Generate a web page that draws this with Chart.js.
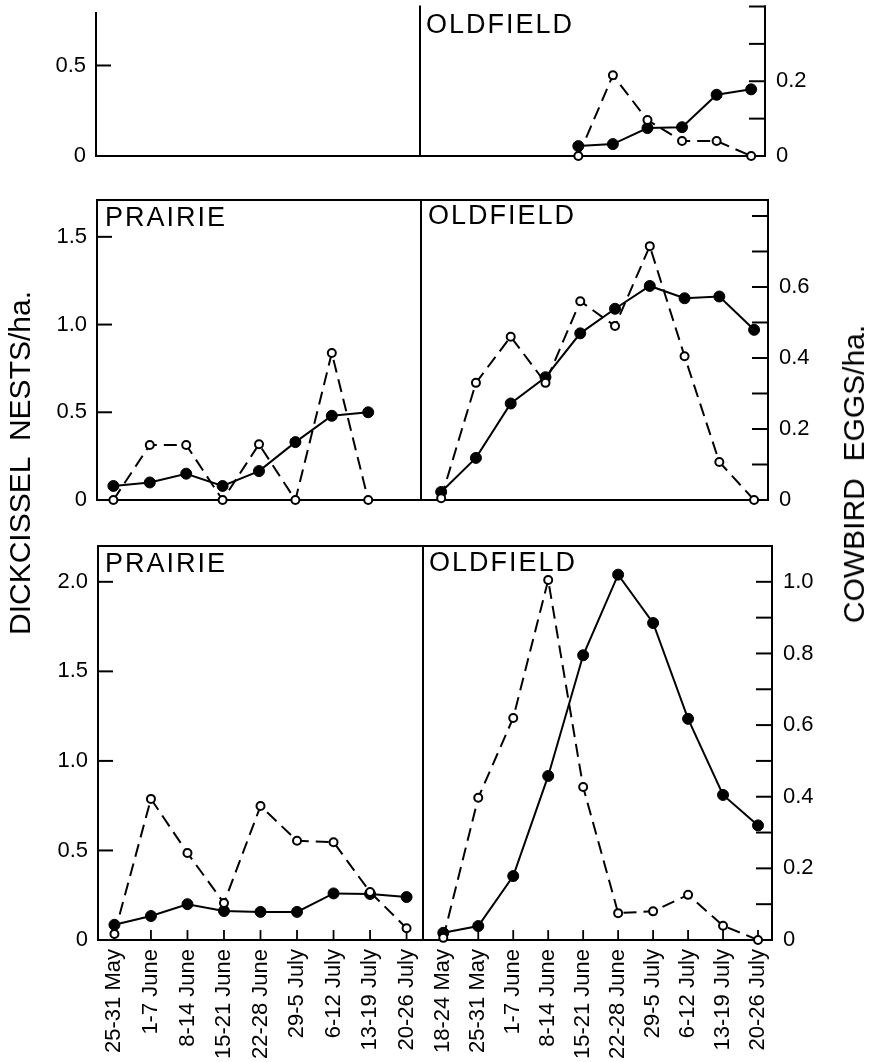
<!DOCTYPE html>
<html lang="en">
<head>
    <meta charset="UTF-8">
    <title>Dickcissel nests and cowbird eggs</title>
    <style>
        body {
            margin: 0;
            background: #ffffff;
            font-family: 'Liberation Sans', Arial, Helvetica, sans-serif;
        }
        #page {
            position: relative;
            width: 871px;
            height: 1062px;
            overflow: hidden;
        }
        canvas {
            position: absolute;
            left: 0;
            top: 0;
        }
        /* panel names */
        .tag {
            position: absolute;
            font-size: 27px;
            line-height: 27px;
            letter-spacing: 2px;
            color: #000;
            white-space: pre;
        }
        /* rotated axis titles */
        .axis-title {
            position: absolute;
            font-size: 30px;
            line-height: 30px;
            color: #000;
            white-space: pre;
            transform: translate(-50%, -50%) rotate(-90deg);
        }
    </style>
    <script src="https://cdn.jsdelivr.net/npm/chart.js"></script>
</head>
<body>
<div id="page">
    <canvas id="c1a" width="871" height="1062"></canvas>
    <canvas id="c1b" width="871" height="1062"></canvas>
    <canvas id="c2a" width="871" height="1062"></canvas>
    <canvas id="c2b" width="871" height="1062"></canvas>
    <canvas id="c3a" width="871" height="1062"></canvas>
    <canvas id="c3b" width="871" height="1062"></canvas>

    <div class="tag" style="left:426px; top:11px;">OLDFIELD</div>
    <div class="tag" style="left:105px; top:204px;">PRAIRIE</div>
    <div class="tag" style="left:428px; top:202px;">OLDFIELD</div>
    <div class="tag" style="left:105px; top:550px;">PRAIRIE</div>
    <div class="tag" style="left:429px; top:549px;">OLDFIELD</div>

    <div class="axis-title" style="left:20px; top:463px;">DICKCISSEL  NESTS/ha.</div>
    <div class="axis-title" style="left:854px; top:474px;">COWBIRD  EGGS/ha.</div>
</div>

<script>
    // week categories
    const prairieWeeks = ['25-31 May', '1-7 June', '8-14 June', '15-21 June', '22-28 June',
        '29-5 July', '6-12 July', '13-19 July', '20-26 July'];
    const oldfieldWeeks = ['18-24 May', '25-31 May', '1-7 June', '8-14 June', '15-21 June',
        '22-28 June', '29-5 July', '6-12 July', '13-19 July', '20-26 July'];

    // top panel (only oldfield has data)
    const prairieNests1 = [null, null, null, null, null, null, null, null, null];
    const prairieEggs1 = [null, null, null, null, null, null, null, null, null];
    const oldfieldNests1 = [null, null, null, null, 0.055, 0.066, 0.155, 0.16, 0.34, 0.37];
    const oldfieldEggs1 = [null, null, null, null, 0, 0.216, 0.096, 0.04, 0.04, 0];

    // middle panel
    const prairieNests2 = [0.08, 0.10, 0.15, 0.08, 0.165, 0.33, 0.48, 0.50, null];
    const prairieEggs2 = [0, 0.155, 0.155, 0, 0.157, 0, 0.414, 0, null];
    const oldfieldNests2 = [0.046, 0.24, 0.55, 0.70, 0.95, 1.09, 1.22, 1.15, 1.16, 0.97];
    const oldfieldEggs2 = [0.005, 0.33, 0.46, 0.33, 0.56, 0.49, 0.715, 0.405, 0.107, 0];

    // bottom panel
    const prairieNests3 = [0.085, 0.134, 0.20, 0.162, 0.157, 0.157, 0.26, 0.257, 0.24];
    const prairieEggs3 = [0.017, 0.394, 0.243, 0.103, 0.374, 0.277, 0.273, 0.134, 0.033];
    const oldfieldNests3 = [0.04, 0.078, 0.357, 0.916, 1.59, 2.04, 1.77, 1.235, 0.81, 0.64];
    const oldfieldEggs3 = [0.006, 0.397, 0.62, 1.005, 0.427, 0.075, 0.08, 0.126, 0.04, 0];

    // tick values / labelled values
    const nestTicks1 = [0, 0.5];
    const nestTicks2 = [0, 0.5, 1.0, 1.5];
    const nestTicks3 = [0, 0.5, 1.0, 1.5, 2.0];
    const eggTicks1 = [0, 0.1, 0.2, 0.3, 0.4];
    const eggTicks2 = [0, 0.1, 0.2, 0.3, 0.4, 0.5, 0.6, 0.7, 0.8];
    const eggTicks3 = [0, 0.1, 0.2, 0.3, 0.4, 0.5, 0.6, 0.7, 0.8, 0.9, 1.0];
    const eggLabels1 = [0, 0.2];
    const eggLabels2 = [0, 0.2, 0.4, 0.6];
    const eggLabels3 = [0, 0.2, 0.4, 0.6, 0.8, 1.0];

    const W = 871, H = 1062;
    const FONT = { family: "'Liberation Sans', Arial, Helvetica, sans-serif", size: 22 };

    // draws axis lines and inward tick marks
    const framePlugin = {
        id: 'frame',
        beforeDatasetsDraw(chart, args, o) {
            const ctx = chart.ctx, a = chart.chartArea;
            ctx.save();
            ctx.strokeStyle = '#000';
            ctx.lineWidth = 2;
            ctx.lineCap = 'square';
            const seg = (x1, y1, x2, y2) => {
                ctx.beginPath(); ctx.moveTo(x1, y1); ctx.lineTo(x2, y2); ctx.stroke();
            };
            if (o.sides.includes('left')) seg(a.left, a.top, a.left, a.bottom);
            if (o.sides.includes('right')) seg(a.right, a.top, a.right, a.bottom);
            if (o.sides.includes('top')) seg(a.left, a.top, a.right, a.top);
            if (o.sides.includes('bottom')) seg(a.left, a.bottom, a.right, a.bottom);

            const ys = chart.scales[o.yScale];
            ys.ticks.forEach(t => {
                if (t.value === 0) return;
                const py = ys.getPixelForValue(t.value);
                if (o.ySide === 'left') seg(a.left, py, a.left + 14, py);
                else seg(a.right - 15, py, a.right, py);
            });
            if (o.xTicks) {
                const xs = chart.scales.x;
                ctx.lineWidth = 1.8;
                xs.ticks.forEach(t => {
                    const px = xs.getPixelForValue(t.value);
                    seg(px, a.bottom, px, a.bottom - 9);
                });
            }
            ctx.restore();
        }
    };

    const fmt = v => v === 0 ? '0' : v.toFixed(1);
    const pts = arr => arr.map((v, i) => ({ x: i, y: v })).filter(p => p.y !== null);

    function makeChart(id, cfg) {
        const isLeft = cfg.side === 'left';
        const nestAxis = {
            type: 'linear', position: 'left', min: 0, max: cfg.nestMax,
            display: isLeft,
            afterBuildTicks: s => { s.ticks = cfg.nestTicks.map(v => ({ value: v })); },
            afterFit: s => { s.width = isLeft ? cfg.axisX : 0; s.paddingTop = 0; s.paddingBottom = 0; },
            border: { display: false },
            grid: { display: false, drawTicks: false },
            ticks: { autoSkip: false, padding: 10, color: '#000', font: FONT, callback: v => fmt(v) }
        };
        const eggAxis = {
            type: 'linear', position: 'right', min: 0, max: cfg.eggMax,
            display: !isLeft,
            afterBuildTicks: s => { s.ticks = cfg.eggTicks.map(v => ({ value: v })); },
            afterFit: s => { s.width = isLeft ? 0 : W - cfg.axisX; s.paddingTop = 0; s.paddingBottom = 0; },
            border: { display: false },
            grid: { display: false, drawTicks: false },
            ticks: {
                autoSkip: false, padding: 11, color: '#000', font: FONT,
                callback: v => cfg.eggLabels.includes(v) ? fmt(v) : ''
            }
        };
        return new Chart(document.getElementById(id), {
            type: 'line',
            data: {
                datasets: [
                    {
                        label: 'Cowbird eggs', data: pts(cfg.eggs), yAxisID: 'egg',
                        borderColor: '#000', borderWidth: 2, borderDash: [13, 7],
                        pointRadius: 4, pointBackgroundColor: '#fff',
                        pointBorderColor: '#000', pointBorderWidth: 2,
                        tension: 0, clip: false
                    },
                    {
                        label: 'Dickcissel nests', data: pts(cfg.nests), yAxisID: 'nest',
                        borderColor: '#000', borderWidth: 2,
                        pointRadius: 5.5, pointBackgroundColor: '#000',
                        pointBorderColor: '#000', pointBorderWidth: 1,
                        tension: 0, clip: false
                    }
                ]
            },
            options: {
                responsive: false,
                animation: false,
                events: [],
                layout: {
                    padding: {
                        top: cfg.top,
                        bottom: 0,
                        left: isLeft ? 0 : cfg.mid,
                        right: isLeft ? W - cfg.mid : 0
                    }
                },
                plugins: {
                    legend: { display: false },
                    tooltip: { enabled: false },
                    frame: {
                        sides: cfg.sides,
                        yScale: isLeft ? 'nest' : 'egg',
                        ySide: cfg.side,
                        xTicks: cfg.showX
                    }
                },
                scales: {
                    x: {
                        type: 'linear', min: cfg.xMin, max: cfg.xMax,
                        afterBuildTicks: s => { s.ticks = cfg.weeks.map((w, i) => ({ value: i })); },
                        afterFit: s => { s.height = H - cfg.bottom; s.paddingLeft = 0; s.paddingRight = 0; },
                        border: { display: false },
                        grid: { display: false, drawTicks: false },
                        ticks: {
                            display: cfg.showX, autoSkip: false,
                            minRotation: 90, maxRotation: 90, padding: 9,
                            color: '#000', font: FONT,
                            callback: v => cfg.weeks[v]
                        }
                    },
                    nest: nestAxis,
                    egg: eggAxis
                }
            },
            plugins: [framePlugin]
        });
    }

    const LX = [-0.45, 8.45];  // prairie half
    const RX = [-0.58, 9.4];   // oldfield half

    // top row
    makeChart('c1a', { side: 'left', weeks: prairieWeeks, nests: prairieNests1, eggs: prairieEggs1,
        top: 13, bottom: 156, axisX: 96, mid: 420, xMin: LX[0], xMax: LX[1],
        nestMax: 0.79, eggMax: 0.38, nestTicks: nestTicks1, eggTicks: eggTicks1, eggLabels: eggLabels1,
        sides: ['left', 'bottom'], showX: false });
    makeChart('c1b', { side: 'right', weeks: oldfieldWeeks, nests: oldfieldNests1, eggs: oldfieldEggs1,
        top: 6, bottom: 156, axisX: 765, mid: 420, xMin: RX[0], xMax: RX[1],
        nestMax: 0.83, eggMax: 0.4, nestTicks: nestTicks1, eggTicks: eggTicks1, eggLabels: eggLabels1,
        sides: ['left', 'right', 'bottom'], showX: false });

    // middle row
    makeChart('c2a', { side: 'left', weeks: prairieWeeks, nests: prairieNests2, eggs: prairieEggs2,
        top: 200, bottom: 500, axisX: 97, mid: 421, xMin: LX[0], xMax: LX[1],
        nestMax: 1.71, eggMax: 0.845, nestTicks: nestTicks2, eggTicks: eggTicks2, eggLabels: eggLabels2,
        sides: ['left', 'top', 'bottom'], showX: false });
    makeChart('c2b', { side: 'right', weeks: oldfieldWeeks, nests: oldfieldNests2, eggs: oldfieldEggs2,
        top: 200, bottom: 500, axisX: 768, mid: 421, xMin: RX[0], xMax: RX[1],
        nestMax: 1.71, eggMax: 0.845, nestTicks: nestTicks2, eggTicks: eggTicks2, eggLabels: eggLabels2,
        sides: ['left', 'right', 'top', 'bottom'], showX: false });

    // bottom row
    makeChart('c3a', { side: 'left', weeks: prairieWeeks, nests: prairieNests3, eggs: prairieEggs3,
        top: 546, bottom: 940, axisX: 98, mid: 423, xMin: LX[0], xMax: LX[1],
        nestMax: 2.2, eggMax: 1.1, nestTicks: nestTicks3, eggTicks: eggTicks3, eggLabels: eggLabels3,
        sides: ['left', 'top', 'bottom'], showX: true });
    makeChart('c3b', { side: 'right', weeks: oldfieldWeeks, nests: oldfieldNests3, eggs: oldfieldEggs3,
        top: 546, bottom: 940, axisX: 772, mid: 423, xMin: RX[0], xMax: RX[1],
        nestMax: 2.2, eggMax: 1.1, nestTicks: nestTicks3, eggTicks: eggTicks3, eggLabels: eggLabels3,
        sides: ['left', 'right', 'top', 'bottom'], showX: true });
</script>
</body>
</html>
